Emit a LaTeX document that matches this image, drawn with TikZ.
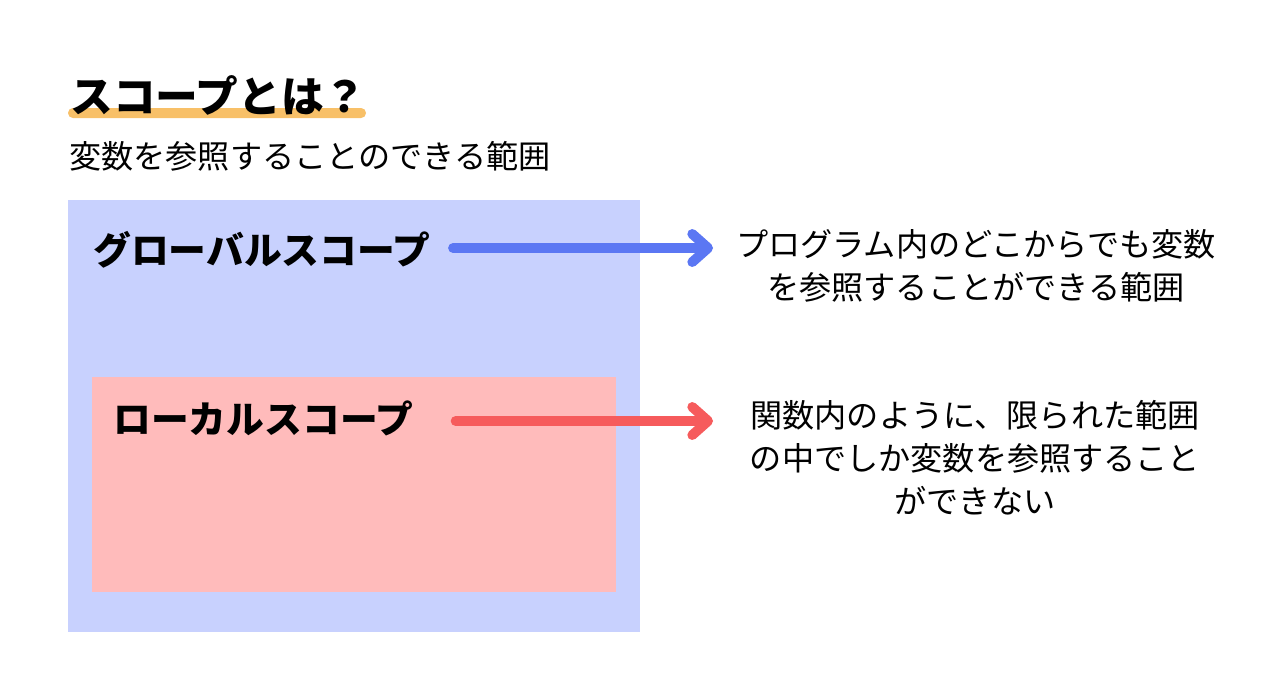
\documentclass[tikz,border=0pt]{standalone}
\usepackage{fontspec}
\setmainfont{Noto Sans CJK JP}
\usetikzlibrary{arrows.meta,positioning}

\definecolor{globfill}{HTML}{C8D1FE}
\definecolor{locfill}{HTML}{FFBBBB}
\definecolor{globline}{HTML}{5B77F3}
\definecolor{locline}{HTML}{F65B5C}
\definecolor{markline}{HTML}{F8C068}

\begin{document}
\begin{tikzpicture}[
  x=0.02cm,y=-0.02cm,
  heading/.style={inner sep=0pt,anchor=west,font=\bfseries\fontsize{24.3}{28}\selectfont},
  subhead/.style={inner sep=0pt,anchor=west,font=\fontsize{18.3}{22}\selectfont},
  scopename/.style={inner sep=0pt,anchor=west,font=\bfseries\fontsize{21.5}{25}\selectfont},
  note/.style={inner sep=0pt,align=center,font=\fontsize{18.3}{24.4}\selectfont},
  pointer/.style={line width=5.6pt,line cap=round,-{Straight Barb[round,length=9pt,width=16pt]}}
]
  \useasboundingbox (0,0) rectangle (1280,680);
  \fill[white] (0,0) rectangle (1280,680);

  % title with marker line
  \fill[markline,rounded corners=2.8pt] (68,108) rectangle (366,118);
  \node[heading] (title) at (70,95) {スコープとは？};
  \node[subhead] (sub) at (69,156) {変数を参照することのできる範囲};

  % scope boxes
  \fill[globfill] (68,200) rectangle (640,632);
  \fill[locfill] (92,377) rectangle (616,592);

  \node[scopename] (glob) at (93,250) {グローバルスコープ};
  \node[scopename] (loc) at (113,418) {ローカルスコープ};

  \node[note] (globtxt) at (976,266) {プログラム内のどこからでも変数\\を参照することができる範囲};
  \node[note] (loctxt) at (975,458) {関数内のように、限られた範囲\\の中でしか変数を参照すること\\ができない};

  \coordinate (globend) at (713,248);
  \coordinate (locend) at (713,421);

  \draw[pointer,globline] ([xshift=0.44cm]glob.east |- globend) -- (globend);
  \draw[pointer,locline] ([xshift=0.84cm]loc.east |- locend) -- (locend);
\end{tikzpicture}
\end{document}
